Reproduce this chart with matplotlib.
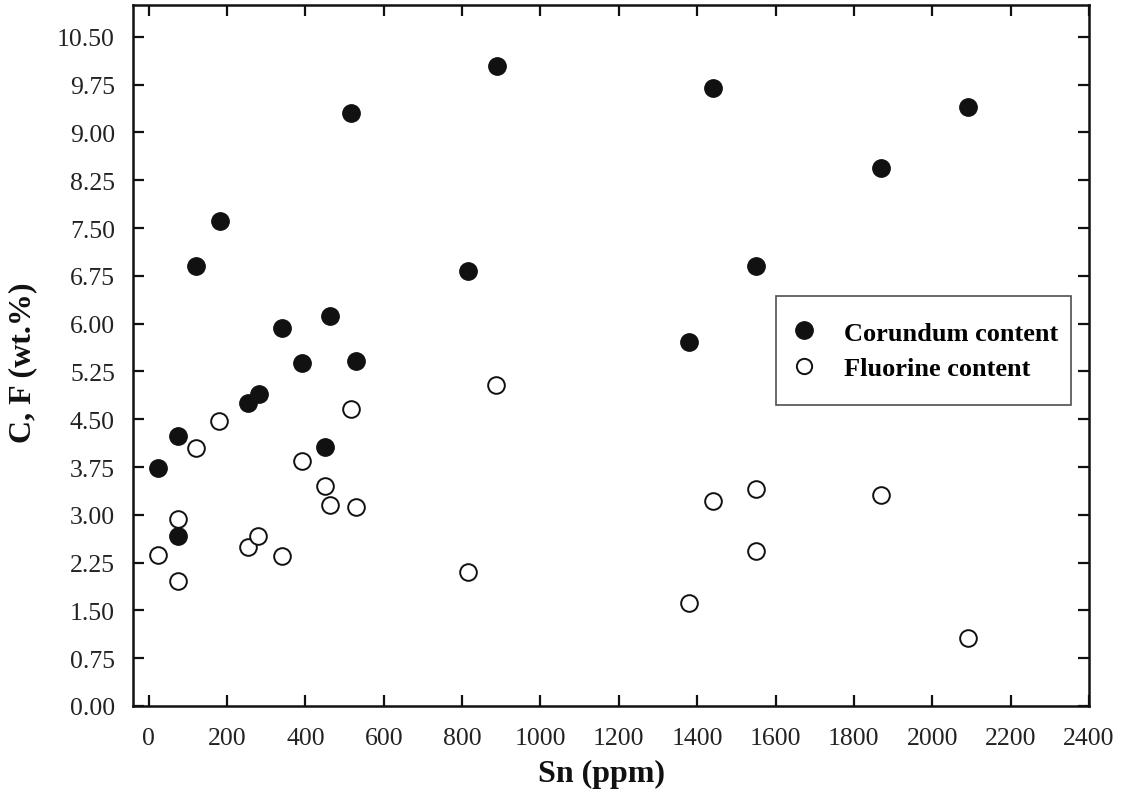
import matplotlib
matplotlib.use("Agg")
import matplotlib.pyplot as plt
from matplotlib.lines import Line2D

# Data
corundum_sn = [25, 74, 74, 121, 181, 253, 281, 341, 391, 451, 464, 517, 528,
               814, 888, 1380, 1440, 1550, 1870, 2090]
corundum_val = [3.73, 4.24, 2.66, 6.91, 7.61, 4.76, 4.90, 5.93, 5.38, 4.07, 6.12,
                9.31, 5.41, 6.82, 10.05, 5.71, 9.70, 6.91, 8.45, 9.40]

fluorine_sn = [25, 74, 74, 121, 180, 253, 280, 340, 391, 451, 464, 516, 528,
               815, 887, 1380, 1440, 1550, 1550, 1870, 2090]
fluorine_val = [2.37, 2.93, 1.96, 4.05, 4.48, 2.49, 2.67, 2.36, 3.84, 3.46, 3.15,
                4.66, 3.12, 2.10, 5.03, 1.62, 3.22, 3.41, 2.44, 3.31, 1.07]

x_ticks = list(range(0, 2401, 200))
y_ticks = [0.00, 0.75, 1.50, 2.25, 3.00, 3.75, 4.50, 5.25, 6.00, 6.75, 7.50,
           8.25, 9.00, 9.75, 10.50]

series_labels = ["Corundum content", "Fluorine content"]

plt.rcParams['font.family'] = ['Liberation Serif', 'DejaVu Serif']

fig = plt.figure(figsize=(11.24, 8.03), dpi=100)
ax = fig.add_axes([133/1124, 1 - 707/803, (1089 - 133)/1124, (707 - 6)/803])

ax.plot(corundum_sn, corundum_val, linestyle='none', marker='o', markersize=12.5,
        markerfacecolor='#111111', markeredgecolor='#111111', markeredgewidth=1.0,
        label=series_labels[0], zorder=3)
ax.plot(fluorine_sn, fluorine_val, linestyle='none', marker='o', markersize=12,
        markerfacecolor='white', markeredgecolor='#111111', markeredgewidth=1.4,
        label=series_labels[1], zorder=3)

ax.set_xlim(-40, 2400)
ax.set_ylim(0, 11.0)
ax.set_xticks(x_ticks)
ax.set_yticks(y_ticks)
ax.set_yticklabels([f"{v:.2f}" for v in y_ticks])

ax.tick_params(axis='both', which='major', direction='in', length=8, width=1.6,
               labelsize=18.5, top=True, right=True, colors='#111111',
               labelcolor='#222222')
ax.tick_params(axis='x', pad=15)
ax.tick_params(axis='y', pad=13)
for s in ax.spines.values():
    s.set_linewidth(1.8)
    s.set_color('#111111')

ax.set_xlabel("Sn (ppm)", fontsize=23, fontweight='bold', color='#111111')
ax.set_ylabel("C, F (wt.%)", fontsize=23, fontweight='bold', color='#111111')
ax.xaxis.set_label_coords(0.49, -0.075)
ax.yaxis.set_label_coords(-0.100, 0.491)

leg_handles = [
    Line2D([], [], linestyle='none', marker='o', markersize=12.5,
           markerfacecolor='#111111', markeredgecolor='#111111'),
    Line2D([], [], linestyle='none', marker='o', markersize=11,
           markerfacecolor='white', markeredgecolor='#111111', markeredgewidth=1.4),
]
x0 = (776 - 133) / 956
x1 = (1071 - 133) / 956
ytop = (707 - 297) / 701
leg = ax.legend(leg_handles, series_labels, loc='upper left',
                bbox_to_anchor=(x0, ytop, x1 - x0, 0.0), mode='expand',
                borderaxespad=0.0, borderpad=0.95, labelspacing=0.45,
                handlelength=0.2, handletextpad=1.43, frameon=True, fancybox=False,
                prop={'family': 'Liberation Serif', 'weight': 'bold', 'size': 19})
leg.get_frame().set_edgecolor('#222222')
leg.get_frame().set_linewidth(1.2)

fig.savefig("out.png", dpi=100)
